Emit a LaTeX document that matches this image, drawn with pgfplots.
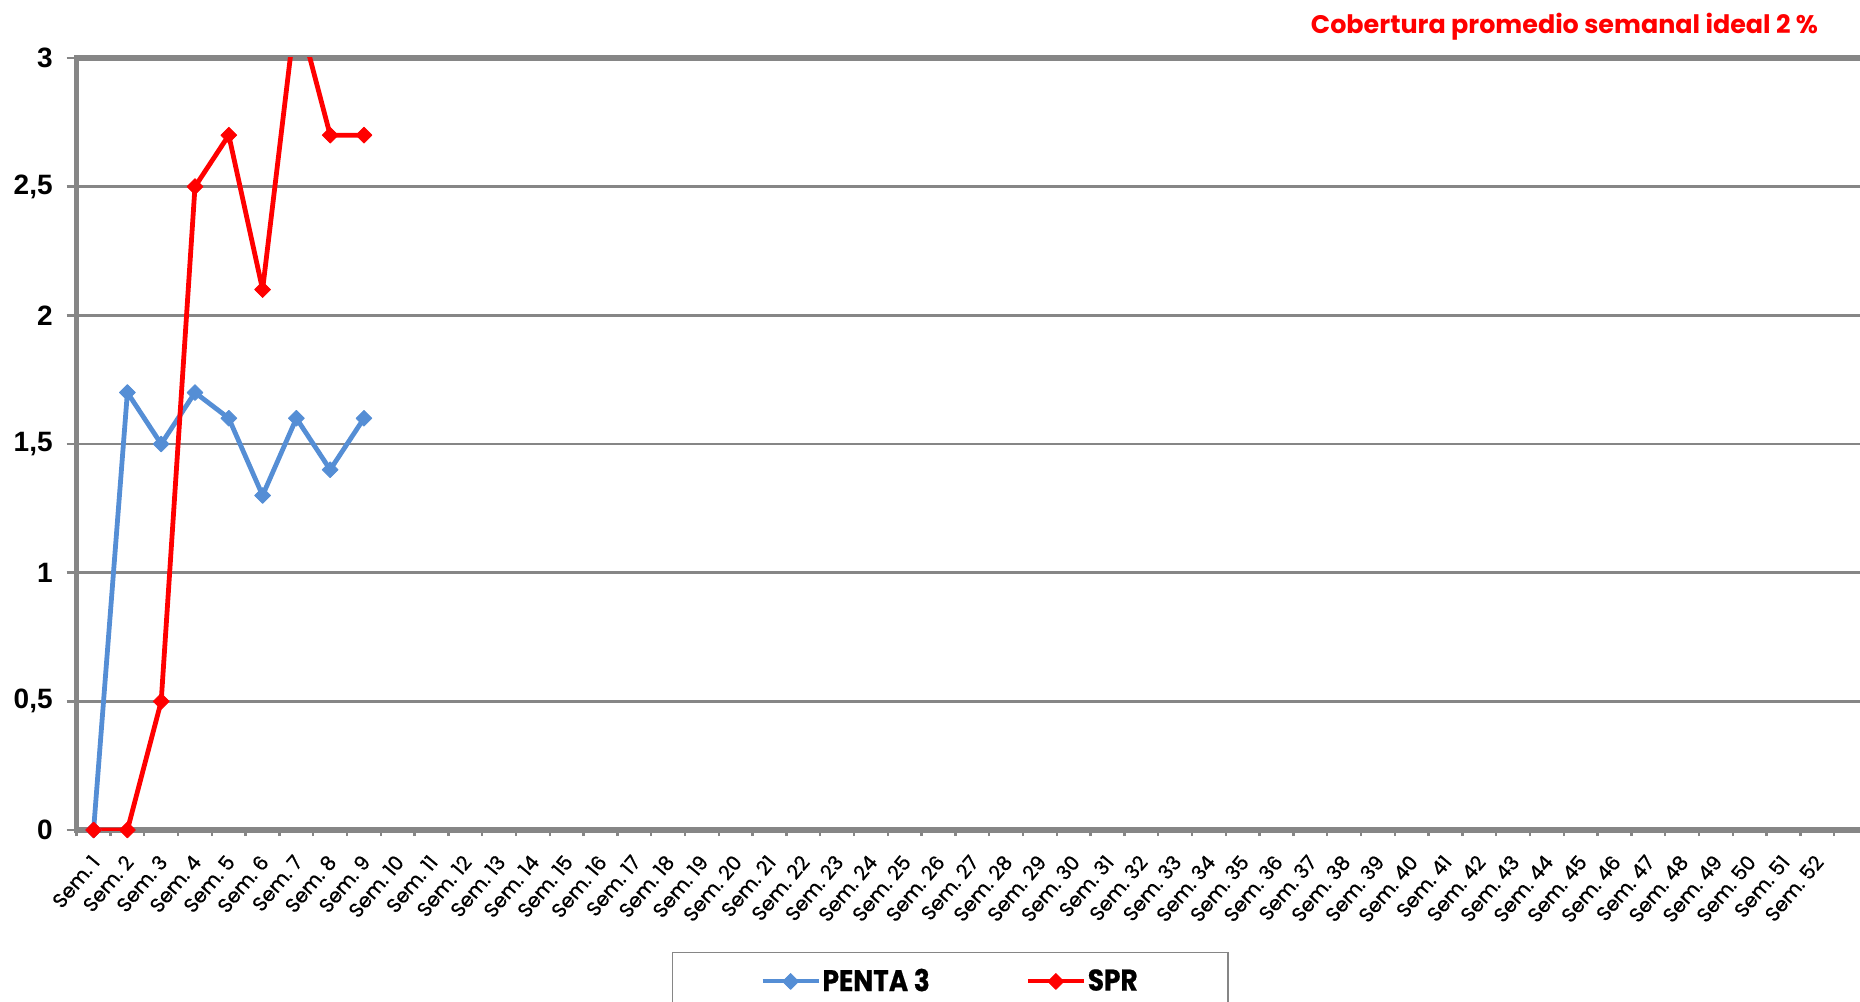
\documentclass[border=0pt]{standalone}
\usepackage{pgfplots}
\pgfplotsset{compat=1.18}
\usepackage{fontspec}
\setmainfont{Poppins}
\newfontfamily\arial{Liberation Sans}
\newfontfamily\xlab[FakeBold=0.8]{Poppins}
\newfontfamily\legfont[FakeStretch=0.88, FakeBold=0.5]{Poppins}
\definecolor{pentablue}{RGB}{85,142,213}
\definecolor{axgray}{RGB}{134,134,134}
\definecolor{sprred}{RGB}{255,0,0}

\begin{document}
\begin{tikzpicture}
\begin{axis}[
  at={(0pt,0pt)}, anchor=south west,
  scale only axis, width=895.7pt, height=386pt,
  xmin=0.5, xmax=53.5, ymin=0, ymax=3,
  axis line style={axgray, line width=2.6pt},
  xtick={1,...,52},
  xticklabel={\pgfmathtruncatemacro\n{\tick}Sem.\ \n},
  major x tick style={draw=none},
  minor xtick={0.5,1.5,...,52.5},
  major tick length=5pt, minor tick length=3pt,
  tick align=outside, xtick pos=bottom, ytick pos=left,
  tick style={axgray, line width=1.2pt},
  ytick={0,0.5,1,1.5,2,2.5,3},
  yticklabels={0,{0,5},1,{1,5},2,{2,5},3},
  yticklabel style={font=\arial\bfseries\fontsize{14}{16}\selectfont, black, xshift=-3.5pt},
  xticklabel style={font=\xlab\fontsize{10}{11}\selectfont, xshift=1pt, yshift=-9pt, rotate=50, anchor=east, inner sep=0pt},
  ymajorgrids, grid style={axgray, line width=1.3pt},
  legend columns=2,
  legend style={at={(0.4876,-0.158)}, anchor=north, draw=axgray, line width=0.75pt,
    inner xsep=44pt, inner ysep=7pt,
    font=\legfont\bfseries\fontsize{15}{17}\selectfont,
    nodes={inner sep=1pt},
    /tikz/every even column/.append style={column sep=47pt}},
  legend image code/.code={\draw[#1, line width=2pt, mark repeat=2, mark phase=2] plot coordinates {(0pt,0pt) (14pt,0pt) (28pt,0pt)};},
]
\addplot[color=pentablue, line width=2.4pt, line join=round, mark=square*, mark size=2.8pt,
  mark options={solid, rotate=45, line width=0.4pt, fill=pentablue}]
  coordinates {(1,0) (2,1.7) (3,1.5) (4,1.7) (5,1.6) (6,1.3) (7,1.6) (8,1.4) (9,1.6)};
\addlegendentry{PENTA 3}
\addplot[color=sprred, line width=2.4pt, line join=round, mark=square*, mark size=2.8pt,
  mark options={solid, rotate=45, line width=0.4pt, fill=sprred}]
  coordinates {(1,0) (2,0) (3,0.5) (4,2.5) (5,2.7) (6,2.1) (7,3.2) (8,2.7) (9,2.7)};
\addlegendentry{SPR}
\end{axis}
\node[anchor=base east, text=sprred, font=\bfseries\fontsize{12.7}{14}\selectfont] at (874.2pt,398.3pt) {Cobertura promedio semanal ideal 2 \%};
\pgfresetboundingbox
\path[use as bounding box] (-38.35pt,-86pt) rectangle (891.65pt,415pt);
\end{tikzpicture}
\end{document}
